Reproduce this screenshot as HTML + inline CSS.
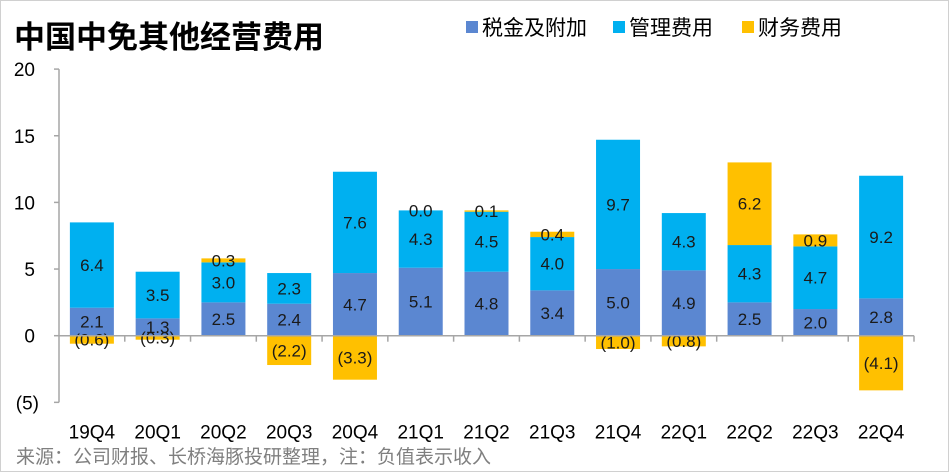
<!DOCTYPE html>
<html><head><meta charset="utf-8"><style>
body{margin:0;background:#fff}
svg{display:block;font-family:"Liberation Sans","Noto Sans CJK SC",sans-serif}
</style></head><body>
<svg id="c" width="949" height="472" xmlns="http://www.w3.org/2000/svg">
<rect x="0.5" y="0.5" width="948" height="471" fill="#fff" stroke="#d0d0d0"/>
<text x="14" y="48" font-size="31" font-weight="bold" fill="#000">中国中免其他经营费用</text>
<g>
<rect x="466" y="21" width="12" height="12" fill="#5b87d1"/>
<text x="482" y="35" font-size="21">税金及附加</text>
<rect x="613" y="21" width="12" height="12" fill="#00b0f0"/>
<text x="629" y="35" font-size="21">管理费用</text>
<rect x="742" y="21" width="12" height="12" fill="#ffc000"/>
<text x="758" y="35" font-size="21">财务费用</text>
</g>
<g id="plot"></g>
<text x="16" y="463" font-size="19" fill="#7f7f7f">来源：公司财报、长桥海豚投研整理，注：负值表示收入</text>
</svg>
<script>
const categories=["19Q4","20Q1","20Q2","20Q3","20Q4","21Q1","21Q2","21Q3","21Q4","22Q1","22Q2","22Q3","22Q4"];
const taxValues=[2.1,1.3,2.5,2.4,4.7,5.1,4.8,3.4,5.0,4.9,2.5,2.0,2.8];
const adminValues=[6.4,3.5,3.0,2.3,7.6,4.3,4.5,4.0,9.7,4.3,4.3,4.7,9.2];
const financeValues=[-0.6,-0.3,0.3,-2.2,-3.3,0.0,0.1,0.4,-1.0,-0.8,6.2,0.9,-4.1];
const yTicks=[20,15,10,5,0,-5];
const yTickLabels=["20","15","10","5","0","(5)"];
const NS="http://www.w3.org/2000/svg";
const g=document.getElementById('plot');
const left=59,right=914,y0=335.7,ppu=13.33,bw=44;
const step=(right-left)/categories.length;
const y=v=>y0-v*ppu;
const xc=i=>left+step*(i+0.5);
function mk(t,a){const e=document.createElementNS(NS,t);for(const k in a)e.setAttribute(k,a[k]);g.appendChild(e);return e;}
const fmt=v=>v<0?"("+Math.abs(v).toFixed(1)+")":v.toFixed(1);
let ax=mk('line',{x1:left,x2:left,y1:y(20),y2:y(-5),stroke:'#a6a6a6','stroke-width':1.5});


yTicks.forEach((v,i)=>{
 let t=mk('line',{x1:left-5,x2:left,y1:y(v),y2:y(v),stroke:'#a6a6a6','stroke-width':1.5});
 
 
 let l=mk('text',{x:left-24,y:y(v)+7,'font-size':19,'text-anchor':'end'});
 l.textContent=yTickLabels[i];
 
 
 if(v===-5){l.setAttribute('x',left-20);}
});
function seg(x,a,b,color,val,name){
 const top=Math.min(y(a),y(b)),h=Math.abs(y(a)-y(b));
 let r=mk('rect',{x:x-bw/2,y:top,width:bw,height:Math.max(h,0.001),fill:color});
 
 
 let l=mk('text',{x:x,y:top+h/2+6,'font-size':17,'text-anchor':'middle',fill:'#1a1a1a'});
 l.textContent=fmt(val);
 
 
}
categories.forEach((c,i)=>{
 const x=xc(i);
 seg(x,0,taxValues[i],'#5b87d1',taxValues[i],'bar-tax-'+c);
 seg(x,taxValues[i],taxValues[i]+adminValues[i],'#00b0f0',adminValues[i],'bar-admin-'+c);
 const f=financeValues[i];
 if(f>=0) seg(x,taxValues[i]+adminValues[i],taxValues[i]+adminValues[i]+f,'#ffc000',f,'bar-finance-'+c);
 else seg(x,0,f,'#ffc000',f,'bar-finance-'+c);
 let l=mk('text',{x:x,y:y(-5)+36,'font-size':19,'text-anchor':'middle'});
 l.textContent=c;
 
 
});
let zl=mk('line',{x1:left,x2:right,y1:y0,y2:y0,stroke:'#a6a6a6','stroke-width':1.5});


for(let i=1;i<=categories.length;i++){
 let t=mk('line',{x1:left+step*i,x2:left+step*i,y1:y0,y2:y0+6,stroke:'#a6a6a6','stroke-width':1.5});
 
 
}
</script>
</body></html>
